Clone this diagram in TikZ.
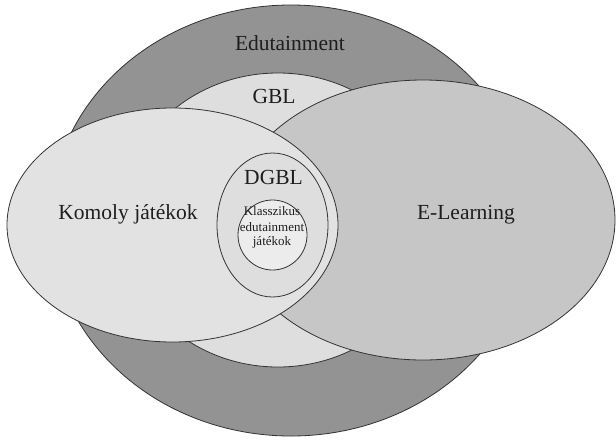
\documentclass[tikz,border=0pt]{standalone}
\usepackage{fontspec}
\setmainfont{Liberation Serif}
\usetikzlibrary{shapes.geometric}
\definecolor{edufill}{HTML}{939393}
\definecolor{gblfill}{HTML}{DEDEDE}
\definecolor{elfill}{HTML}{C6C6C6}
\definecolor{komfill}{HTML}{E2E2E2}
\definecolor{dgblfill}{HTML}{DEDEDE}
\definecolor{klfill}{HTML}{ECECEC}
\definecolor{edge}{HTML}{333333}
\definecolor{ink}{HTML}{1E1E1E}
\tikzset{
  setblob/.style={ellipse, draw=edge, line width=0.8pt, inner sep=0pt, outer sep=0pt},
  biglabel/.style={anchor=base, text=ink, inner sep=0pt, font=\fontsize{21.5}{24}\selectfont},
  smalllabel/.style={anchor=base, text=ink, inner sep=0pt, font=\fontsize{13}{15}\selectfont, align=center}
}
\begin{document}
\begin{tikzpicture}[x=1pt, y=-1pt]
\useasboundingbox (0,0) rectangle (616,440);
\node[setblob, fill=edufill, minimum width=481pt, minimum height=431pt] (edu) at (291,220.5) {};
\node[setblob, fill=gblfill, minimum width=316pt, minimum height=294pt] (gbl) at (278,220) {};
\node[setblob, fill=elfill, minimum width=384pt, minimum height=280pt] (el) at (423,220) {};
\node[setblob, fill=komfill, minimum width=331pt, minimum height=234pt] (kom) at (172.5,225) {};
\node[setblob, fill=dgblfill, minimum width=111pt, minimum height=144pt] (dgbl) at (272.5,225) {};
\node[setblob, fill=klfill, minimum width=69pt, minimum height=70pt] (kl) at (272.5,235) {};
\node[biglabel] (edutxt) at (290,50) {Edutainment};
\node[biglabel] (gbltxt) at (274,103) {GBL};
\node[biglabel] (komtxt) at (128,219) {Komoly játékok};
\node[biglabel] (eltxt) at (466,219) {E-Learning};
\node[biglabel] (dgbltxt) at (273.5,184) {DGBL};
\node[smalllabel] (kl1) at (272,215) {Klasszikus};
\node[smalllabel] (kl2) at (272,231) {edutainment};
\node[smalllabel] (kl3) at (272,245) {játékok};
\end{tikzpicture}
\end{document}
